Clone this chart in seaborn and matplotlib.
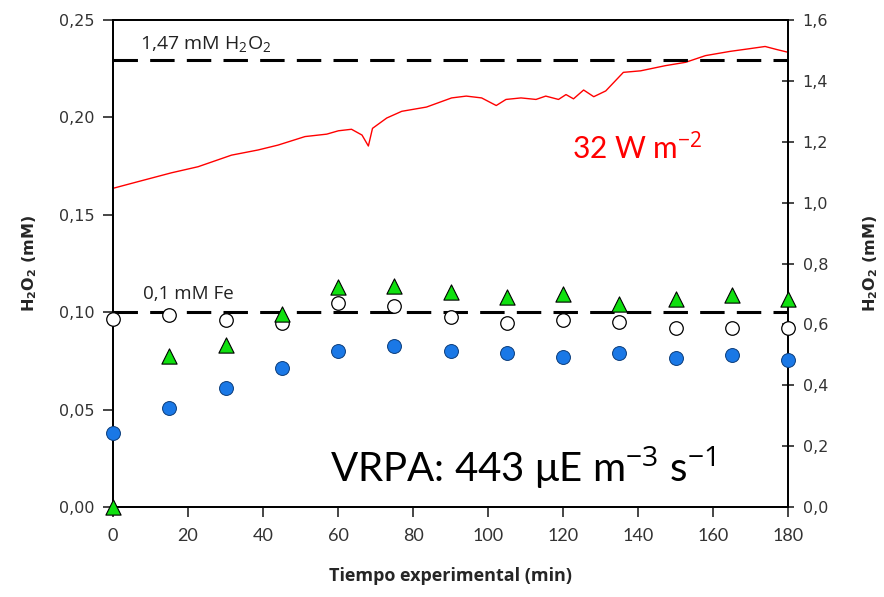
import matplotlib
matplotlib.use("Agg")
import matplotlib.pyplot as plt
import seaborn as sns
import pandas as pd
from matplotlib.ticker import FuncFormatter, MultipleLocator

# ---- data ----
time_pts = [0, 15, 30, 45, 60, 75, 90, 105, 120, 135, 150, 165, 180]
blue_vals = [0.038, 0.051, 0.061, 0.0715, 0.080, 0.0826, 0.080, 0.079, 0.0768, 0.079, 0.0767, 0.078, 0.0755]
open_vals = [0.0963, 0.0986, 0.096, 0.0946, 0.1049, 0.1032, 0.0977, 0.0943, 0.096, 0.0948, 0.0917, 0.0917, 0.0917]
green_vals = [0.0, 0.0775, 0.0832, 0.0989, 0.1131, 0.1134, 0.1105, 0.1076, 0.1093, 0.104, 0.1066, 0.1088, 0.1066]

red_t = [0, 6.7, 15.6, 22.7, 31.6, 38.7, 44, 51.2, 57, 60.1, 63.6, 66.4, 68.1, 69.2, 73, 77, 83.6,
         90.3, 94.2, 98.3, 102.2, 104.8, 108.8, 112.8, 115.4, 118.8, 120.8, 122.8, 125.5, 128.2,
         131.4, 136.1, 140.7, 147.3, 152.7, 158, 164.6, 169.9, 173.9, 177, 180]
red_v = [1.047, 1.069, 1.098, 1.118, 1.156, 1.173, 1.189, 1.217, 1.225, 1.236, 1.241, 1.222, 1.186,
         1.244, 1.278, 1.300, 1.314, 1.344, 1.350, 1.344, 1.319, 1.339, 1.344, 1.339, 1.350, 1.339,
         1.355, 1.341, 1.370, 1.348, 1.367, 1.428, 1.433, 1.450, 1.461, 1.483, 1.497, 1.506, 1.513,
         1.503, 1.494]

h2o2_ref = 1.47
fe_ref = 0.1
x_ticks = [0, 20, 40, 60, 80, 100, 120, 140, 160, 180]

# ---- style ----
sns.set_theme(style="ticks")
plt.rcParams['font.family'] = ['DejaVu Sans']
plt.rcParams['mathtext.fontset'] = 'custom'
plt.rcParams['mathtext.rm'] = 'Open Sans'
plt.rcParams['mathtext.bf'] = 'DejaVu Sans:bold'

fig = plt.figure(figsize=(8.84, 5.97), dpi=100)
ax = fig.add_axes([113/884, 1-507/597, (788-113)/884, (507-20)/597])
ax2 = ax.twinx()

df_pts = pd.DataFrame({"t": time_pts, "blue": blue_vals, "open": open_vals, "green": green_vals})
df_red = pd.DataFrame({"t": red_t, "v": red_v})

# red line on right axis
sns.lineplot(data=df_red, x="t", y="v", ax=ax2, color="#ff0000", linewidth=1.0)
ax2.axhline(h2o2_ref, color="black", lw=2.2, dashes=(8, 4))

# markers on left axis
ax.axhline(fe_ref, color="black", lw=2.2, dashes=(8, 4), zorder=1)
sns.scatterplot(data=df_pts, x="t", y="open", ax=ax, marker="o", s=95, color="white",
                edgecolor="black", linewidth=0.9, zorder=3, clip_on=False)
sns.scatterplot(data=df_pts, x="t", y="blue", ax=ax, marker="o", s=100, color="#1a78e6",
                edgecolor="#0b3c7a", linewidth=0.7, zorder=3, clip_on=False)
sns.scatterplot(data=df_pts, x="t", y="green", ax=ax, marker="^", s=120, color="#10e010",
                edgecolor="black", linewidth=0.8, zorder=4, clip_on=False)

ax.set_zorder(ax2.get_zorder() + 1)
ax.patch.set_visible(False)

ax.set_xlim(0, 180)
ax.set_ylim(0, 0.25)
ax2.set_ylim(0, 1.6)
ax.set_xticks(x_ticks)
ax.yaxis.set_major_locator(MultipleLocator(0.05))
ax2.yaxis.set_major_locator(MultipleLocator(0.2))
ax.yaxis.set_major_formatter(FuncFormatter(lambda v, p: f"{v:.2f}".replace(".", ",")))
ax2.yaxis.set_major_formatter(FuncFormatter(lambda v, p: f"{v:.1f}".replace(".", ",")))

for a in (ax, ax2):
    for s in a.spines.values():
        s.set_linewidth(1.3)
        s.set_color("black")
ax.tick_params(axis="y", direction="out", length=7, width=1.2, labelsize=11.5, labelcolor="#333333", pad=6)
ax2.tick_params(axis="y", direction="inout", length=9, width=1.2, labelsize=11.5, labelcolor="#333333", pad=6)
ax.tick_params(axis="x", direction="out", length=7, width=1.2, labelsize=13, labelcolor="#333333", pad=8)
for lab in ax.get_xticklabels():
    lab.set_family("Lato")

ax.set_xlabel("Tiempo experimental (min)", fontsize=13, fontweight="bold", family="Open Sans", labelpad=17)
ax.set_ylabel(r"H$\mathbf{_2}$O$\mathbf{_2}$ (mM)", fontsize=11.5, fontweight="bold")
ax2.set_ylabel(r"H$\mathbf{_2}$O$\mathbf{_2}$ (mM)", fontsize=11.5, fontweight="bold")
ax.yaxis.set_label_coords(-0.11, 0.5)
ax2.yaxis.set_label_coords(1.108, 0.5)

ax.text(7.2, 0.2375, r"1,47 mM H$_2$O$_2$", fontsize=14, family="Open Sans", color="#222222", va="center")
ax.text(8.0, 0.1095, "0,1 mM Fe", fontsize=13.5, family="Open Sans", color="#222222", va="center")
ax.text(122.5, 0.184, "32 W m$^{-2}$", fontsize=21.5, family="Lato", color="#ff0000", va="center")
ax.text(58.0, 0.02, "VRPA: 443 \u03bcE m$^{-3}$ s$^{-1}$", fontsize=29, family=["Lato", "DejaVu Sans"],
        color="black", va="center")

fig.savefig("out.png", dpi=100)
